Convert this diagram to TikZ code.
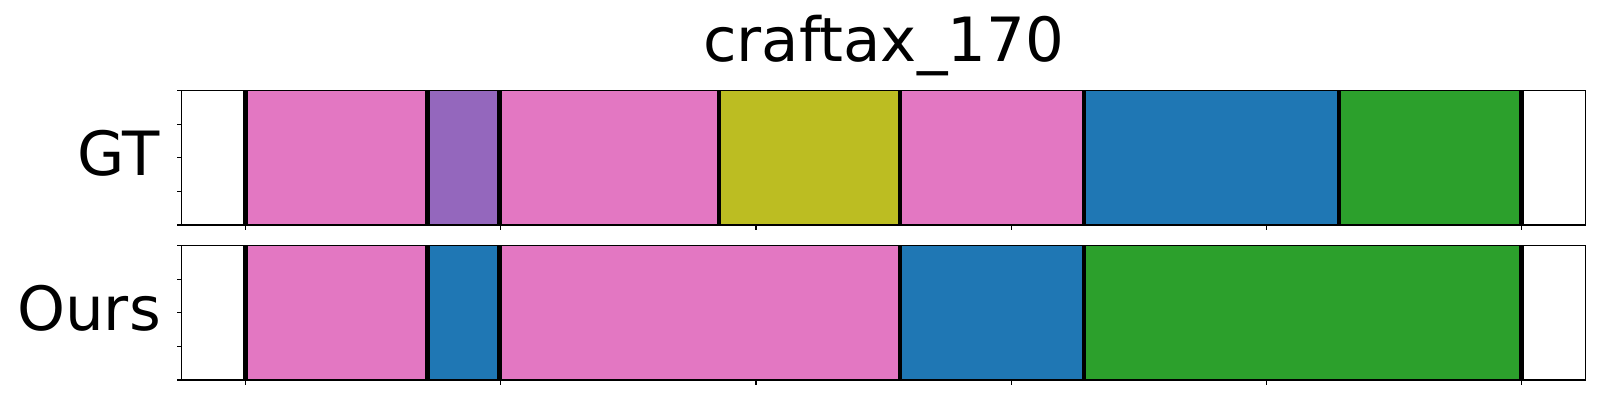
\documentclass[tikz,border=0pt]{standalone}
\usepackage{fontspec}
\setmainfont{DejaVu Sans}
\definecolor{tpink}{HTML}{E377C2}
\definecolor{tpurple}{HTML}{9467BD}
\definecolor{tolive}{HTML}{BCBD22}
\definecolor{tblue}{HTML}{1F77B4}
\definecolor{tgreen}{HTML}{2CA02C}
\tikzset{
  spine/.style={draw=black, line width=1.4pt},
  tickmark/.style={draw=black, line width=1.1pt},
  bound/.style={draw=black, line width=4.5pt},
  lbl/.style={font=\fontsize{61}{70}\selectfont, inner sep=0pt},
}
\newcommand{\dx}[1]{245.7+1.0205*#1}
\begin{document}
\begin{tikzpicture}[x=1pt,y=-1pt]
\useasboundingbox (0,0) rectangle (1600,400);
% top axes segments
\foreach \a/\b/\c in {0/178.3/tpink,178.3/248.9/tpurple,248.9/463.8/tpink,463.8/641.2/tolive,641.2/821.4/tpink,821.4/1071.3/tblue,1071.3/1250/tgreen}{
  \fill[\c] ({\dx{\a}},90.7) rectangle ({\dx{\b}},225);
}
\foreach \a in {0,178.3,248.9,463.8,641.2,821.4,1071.3,1250}{
  \draw[bound] ({\dx{\a}},90.7) -- ({\dx{\a}},225);
}
% bottom axes segments
\foreach \a/\b/\c in {0/178.3/tpink,178.3/248.9/tblue,248.9/641.2/tpink,641.2/821.4/tblue,821.4/1250/tgreen}{
  \fill[\c] ({\dx{\a}},245.7) rectangle ({\dx{\b}},380);
}
\foreach \a in {0,178.3,248.9,641.2,821.4,1250}{
  \draw[bound] ({\dx{\a}},245.7) -- ({\dx{\a}},380);
}
% spines
\draw[spine] (181.7,90.7) rectangle (1585.3,225);
\draw[spine] (181.7,245.7) rectangle (1585.3,380);
% ticks
\foreach \t in {0,250,500,750,1000,1250}{
  \draw[tickmark] ({\dx{\t}},225) -- ({\dx{\t}},230);
  \draw[tickmark] ({\dx{\t}},380) -- ({\dx{\t}},385);
}
\foreach \f in {0,0.25,0.5,0.75,1}{
  \draw[tickmark] (181.7,{90.7+134.3*\f}) -- (176.7,{90.7+134.3*\f});
  \draw[tickmark] (181.7,{245.7+134.3*\f}) -- (176.7,{245.7+134.3*\f});
}
% labels
\node[lbl, anchor=base] (title) at (883.5,61.7) {craftax\_170};
\node[lbl, anchor=base east] (gt) at (160,175) {GT};
\node[lbl, anchor=base east] (ours) at (161,330) {Ours};
\end{tikzpicture}
\end{document}
